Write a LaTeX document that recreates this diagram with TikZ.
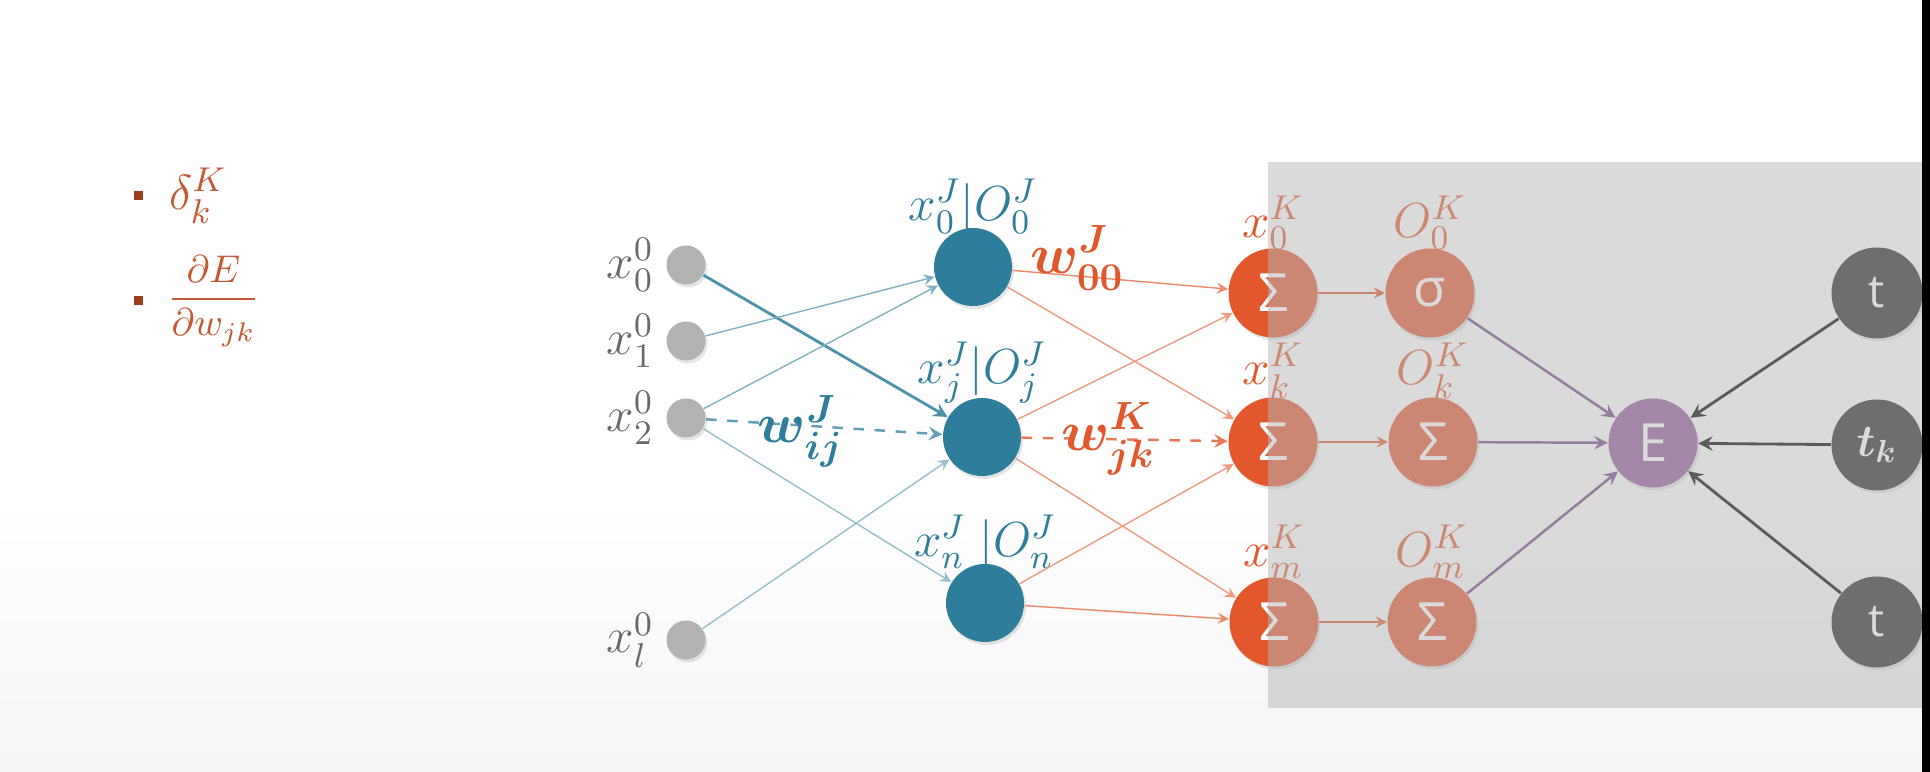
\documentclass[tikz,border=0pt]{standalone}
\usepackage{fix-cm}
\usepackage{amsmath}
\usepackage{fontspec}
\newfontfamily\chunut{Open Sans}
\usetikzlibrary{positioning,shadows}
\definecolor{xanh}{RGB}{46,125,155}
\definecolor{cam}{RGB}{226,88,44}
\definecolor{tim}{RGB}{146,88,154}
\definecolor{duongtim}{RGB}{118,68,138}
\definecolor{den}{RGB}{38,38,38}
\definecolor{xam}{RGB}{178,178,178}
\definecolor{chuxam}{RGB}{105,105,105}
\definecolor{nau}{RGB}{196,88,52}
\definecolor{naudam}{RGB}{160,60,30}
\definecolor{nen}{RGB}{182,182,182}
\begin{document}
\begin{tikzpicture}[>=stealth,
		bong/.style={drop shadow={opacity=0.2,shadow xshift=0.02cm,shadow yshift=-0.03cm}},
		nutvao/.style={circle,fill=xam,minimum size=0.39cm,inner sep=0pt,bong},
		nutan/.style={circle,fill=xanh,minimum size=0.78cm,inner sep=0pt,bong},
		nutra/.style={circle,fill=cam,minimum size=0.89cm,inner sep=0pt,text=white,font=\chunut\fontsize{15}{15}\selectfont,bong},
		nutt/.style={circle,fill=den,minimum size=0.91cm,inner sep=0pt,text=white,font=\chunut\fontsize{13}{13}\selectfont,bong},
		nhan/.style={inner sep=1pt,font=\fontsize{14}{16}\selectfont},
		trongso/.style={inner sep=0pt,font=\fontsize{16}{18}\selectfont}]
			\useasboundingbox (0,0) rectangle (19.3,-7.72);
			%Nen
			\fill[white] (0,0) rectangle (19.3,-7.72);
			\shade[top color=white,bottom color=black!4] (0,-5.0) rectangle (19.3,-7.72);
			%Cot trai
			\node[fill=naudam,minimum size=0.09cm,inner sep=0pt] (cham1) at (1.38,-1.96) {};
			\node[nhan,text=nau,right=0.22cm of cham1] (delta) {$\delta_k^K$};
			\node[fill=naudam,minimum size=0.09cm,inner sep=0pt] (cham2) at (1.38,-3.01) {};
			\node[nhan,text=nau,right=0.2cm of cham2,font=\fontsize{11}{13}\selectfont] (daoham) {$\dfrac{\partial E}{\partial w_{jk}}$};
			%Lop vao
			\node[nutvao] (vao0) at (6.86,-2.65) {};
			\node[nutvao] (vao1) at (6.86,-3.41) {};
			\node[nutvao] (vao2) at (6.86,-4.18) {};
			\node[nutvao] (vaol) at (6.86,-6.40) {};
			\node[nhan,text=chuxam,left=0.08cm of vao0] (nvao0) {$x_0^0$};
			\node[nhan,text=chuxam,left=0.08cm of vao1] (nvao1) {$x_1^0$};
			\node[nhan,text=chuxam,left=0.08cm of vao2] (nvao2) {$x_2^0$};
			\node[nhan,text=chuxam,left=0.08cm of vaol] (nvaol) {$x_l^0$};
			%Lop an
			\node[nutan] (an0) at (9.73,-2.67) {};
			\node[nutan] (anj) at (9.82,-4.37) {};
			\node[nutan] (ann) at (9.85,-6.03) {};
			\node[nhan,text=xanh,above=-0.1cm of an0] (nan0) {$x_0^J|O_0^J$};
			\node[nhan,text=xanh,above=-0.1cm of anj] (nanj) {$x_j^J|O_j^J$};
			\node[nhan,text=xanh,above=-0.1cm of ann] (nann) {$x_n^J\;|O_n^J$};
			%Lop ra
			\node[nutra] (ra0) at (12.73,-2.93) {Σ};
			\node[nutra] (rak) at (12.73,-4.42) {Σ};
			\node[nutra] (ram) at (12.74,-6.22) {Σ};
			\node[nhan,text=cam,above=-0.06cm of ra0] (nra0) {$x_0^K$};
			\node[nhan,text=cam,above=-0.06cm of rak] (nrak) {$x_k^K$};
			\node[nhan,text=cam,above=-0.06cm of ram] (nram) {$x_m^K$};
			%Ham kich hoat
			\node[nutra] (sg0) at (14.30,-2.93) {σ};
			\node[nutra] (sgk) at (14.33,-4.42) {Σ};
			\node[nutra] (sgm) at (14.32,-6.22) {Σ};
			\node[nhan,text=cam,above=-0.06cm of sg0] (nsg0) {$O_0^K$};
			\node[nhan,text=cam,above=-0.06cm of sgk] (nsgk) {$O_k^K$};
			\node[nhan,text=cam,above=-0.06cm of sgm] (nsgm) {$O_m^K$};
			%Sai so va dich
			\node[nutra,fill=tim] (loi) at (16.53,-4.43) {E};
			\node[nutt] (t0) at (18.77,-2.93) {t};
			\node[nutt] (tk) at (18.77,-4.45) {$\boldsymbol{t_k}$};
			\node[nutt] (tm) at (18.77,-6.22) {t};
			%Mui ten vao -> an
			\draw [->,xanh!85,line width=0.8pt] (vao0)--(anj);
			\draw [->,xanh!60] (vao1)--(an0);
			\draw [->,xanh!60] (vao2)--(an0);
			\draw [->,xanh!75,dashed,line width=0.7pt] (vao2)--(anj) node[trongso,text=xanh,pos=0.4,yshift=-0.06cm]{$\boldsymbol{w_{ij}^J}$};
			\draw [->,xanh!50] (vao2)--(ann);
			\draw [->,xanh!50] (vaol)--(anj);
			%Mui ten an -> ra
			\draw [->,cam!70] (an0)--(ra0) node[trongso,text=cam,pos=0.3,yshift=0.18cm]{$\boldsymbol{w_{00}^J}$};
			\draw [->,cam!60] (an0)--(rak);
			\draw [->,cam!60] (anj)--(ra0);
			\draw [->,cam!80,dashed,line width=0.7pt] (anj)--(rak) node[trongso,text=cam,pos=0.42]{$\boldsymbol{w_{jk}^K}$};
			\draw [->,cam!60] (anj)--(ram);
			\draw [->,cam!60] (ann)--(rak);
			\draw [->,cam!70] (ann)--(ram);
			%Mui ten ra -> sigma
			\draw [->,cam] (ra0)--(sg0);
			\draw [->,cam] (rak)--(sgk);
			\draw [->,cam] (ram)--(sgm);
			%Mui ten -> E
			\draw [->,duongtim,line width=0.7pt] (sg0)--(loi);
			\draw [->,duongtim,line width=0.7pt] (sgk)--(loi);
			\draw [->,duongtim,line width=0.7pt] (sgm)--(loi);
			\draw [->,black,line width=0.8pt] (t0)--(loi);
			\draw [->,black,line width=0.8pt] (tk)--(loi);
			\draw [->,black,line width=0.8pt] (tm)--(loi);
			%Khung xam
			\fill[nen,opacity=0.5] (12.68,-1.62) rectangle (19.22,-7.08);
			\fill[black] (19.22,0) rectangle (19.3,-7.72);
\end{tikzpicture}
\end{document}
